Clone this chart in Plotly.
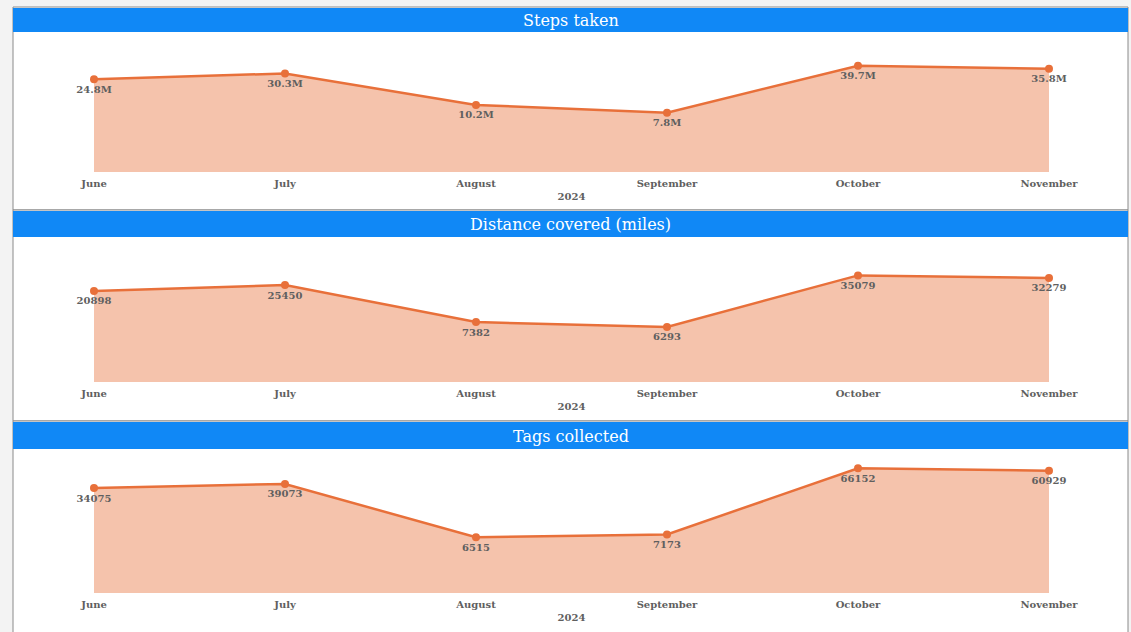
import plotly.graph_objects as go

months = ["June", "July", "August", "September", "October", "November"]
year_label = "2024"

steps = [24.8e6, 30.3e6, 10.2e6, 7.8e6, 39.7e6, 35.8e6]
distance = [20898, 25450, 7382, 6293, 35079, 32279]
tags = [34075, 39073, 6515, 7173, 66152, 60929]

titles = ["Steps taken", "Distance covered (miles)", "Tags collected"]

W, H = 1131, 632
LINE = "#E8703A"
FILL = "rgba(232,112,58,0.42)"
BLUE = "#1088F6"
TXT = "#5f5f5f"
FONT = "DejaVu Serif"

def px_x(p):
    return p / W

def px_y(p):
    return 1 - p / H

# panel geometry in pixels
panels = [
    dict(top=7, bar_bottom=32, bottom=210, plot_top=39, plot_bottom=172, lo=6, hi=8),
    dict(top=210, bar_bottom=237, bottom=421, plot_top=244, plot_bottom=382, lo=3, hi=5),
    dict(top=421, bar_bottom=449, bottom=640, plot_top=456, plot_bottom=593, lo=3, hi=5),
]
series = [steps, distance, tags]
labels = [
    [f"{v/1e6:.1f}M" for v in steps],
    [str(v) for v in distance],
    [str(v) for v in tags],
]

fig = go.Figure()
shapes = []
annotations = []
layout_axes = {}

for i, (p, vals, txt, title) in enumerate(zip(panels, series, labels, titles)):
    n = i + 1
    xa = "x" if n == 1 else f"x{n}"
    ya = "y" if n == 1 else f"y{n}"
    base = [10 ** p["lo"]] * len(months)
    fig.add_trace(go.Scatter(x=months, y=base, mode="lines", line=dict(width=0),
                             hoverinfo="skip", showlegend=False, xaxis=xa, yaxis=ya))
    fig.add_trace(go.Scatter(x=months, y=vals, mode="lines+markers+text",
                             text=txt, textposition="bottom center",
                             textfont=dict(family=FONT, size=10, color=TXT, weight="bold"),
                             line=dict(color=LINE, width=2.5),
                             marker=dict(color=LINE, size=8),
                             fill="tonexty", fillcolor=FILL,
                             cliponaxis=False, showlegend=False,
                             xaxis=xa, yaxis=ya))
    xkey = "xaxis" if n == 1 else f"xaxis{n}"
    ykey = "yaxis" if n == 1 else f"yaxis{n}"
    layout_axes[xkey] = dict(
        domain=[px_x(94), px_x(1049)], automargin=False,
        anchor=ya, type="category", range=[0, len(months) - 1],
        showgrid=False, zeroline=False, showline=False, ticks="",
        ticklabelstandoff=4,
        tickfont=dict(family=FONT, size=10, color=TXT, weight="bold"),
        title=dict(text=year_label, standoff=4,
                   font=dict(family=FONT, size=10, color=TXT, weight="bold")),
    )
    layout_axes[ykey] = dict(
        domain=[px_y(p["plot_bottom"]), px_y(p["plot_top"])], automargin=False,
        anchor=xa, type="log", range=[p["lo"], p["hi"]],
        showgrid=False, zeroline=False, showline=False, showticklabels=False, ticks="",
    )
    # panel background and border
    shapes.append(dict(type="rect", xref="paper", yref="paper", layer="below",
                       x0=px_x(13), x1=px_x(1128), y0=px_y(p["bottom"]), y1=px_y(p["top"]),
                       fillcolor="white", line=dict(color="#8a8a8a", width=1)))
    shapes.append(dict(type="rect", xref="paper", yref="paper", layer="below",
                       x0=px_x(13), x1=px_x(1128), y0=px_y(p["bar_bottom"]), y1=px_y(p["top"] + 1),
                       fillcolor=BLUE, line=dict(width=0)))
    annotations.append(dict(xref="paper", yref="paper", x=px_x(570.5),
                            y=px_y((p["top"] + p["bar_bottom"]) / 2 + 1),
                            text=title, showarrow=False, xanchor="center", yanchor="middle",
                            font=dict(family=FONT, size=16, color="white")))

fig.update_layout(
    width=W, height=H, margin=dict(l=0, r=0, t=0, b=0, autoexpand=False),
    paper_bgcolor="#f3f3f3", plot_bgcolor="rgba(0,0,0,0)",
    shapes=shapes, annotations=annotations, **layout_axes,
)

fig.write_html("out.html")
